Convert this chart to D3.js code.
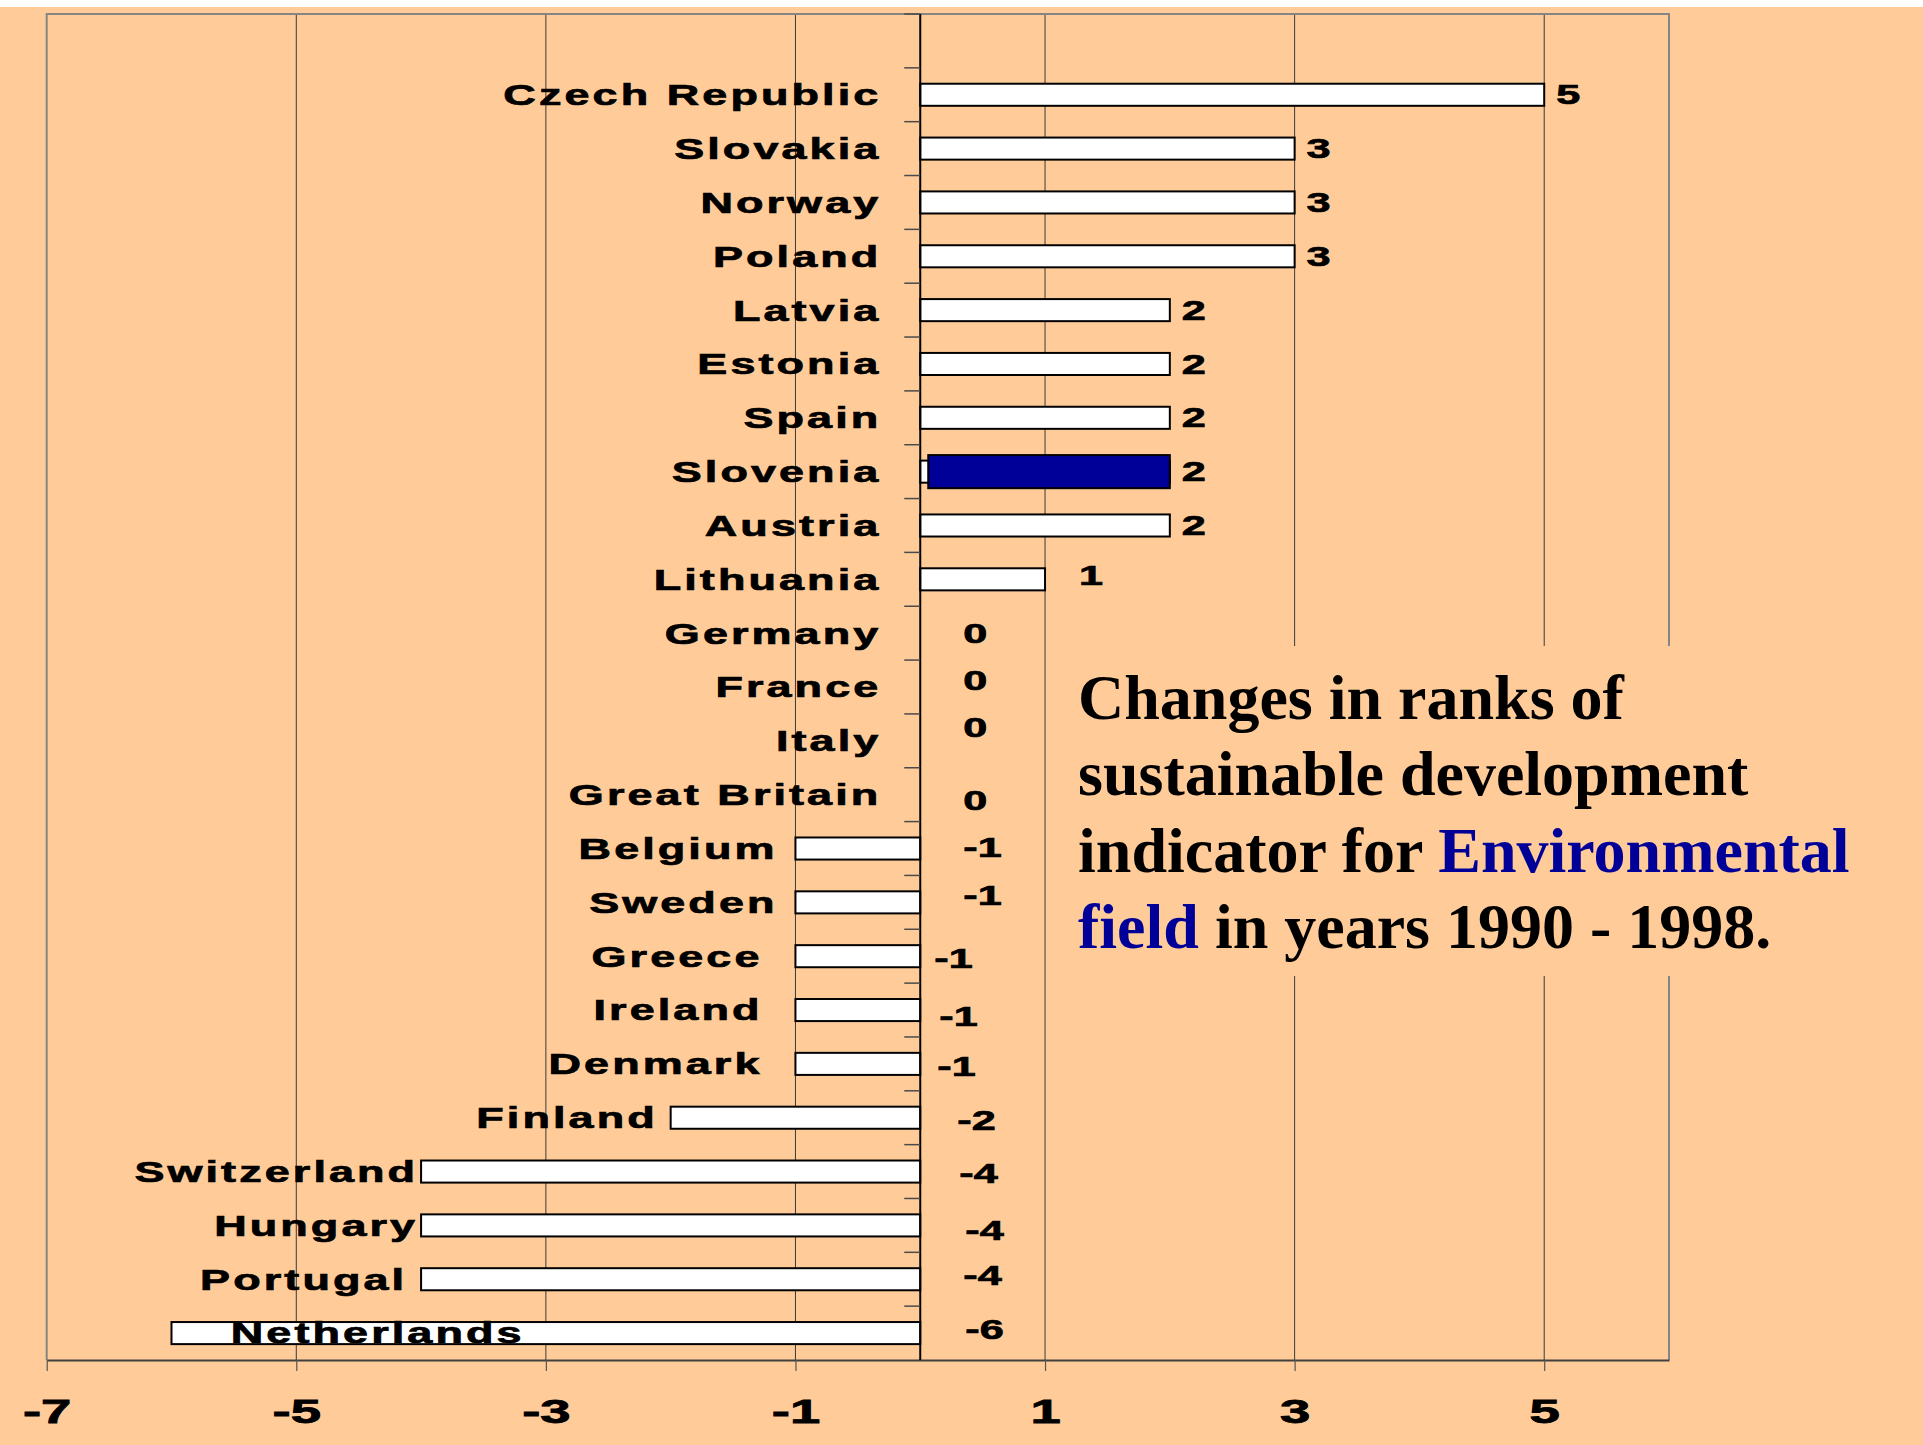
<!DOCTYPE html>
<html>
<head>
<meta charset="utf-8">
<script src="https://cdn.jsdelivr.net/npm/d3@7/dist/d3.min.js"></script>
<style>
  html, body { margin: 0; padding: 0; background: #FFCC99; }
  svg { display: block; }
</style>
</head>
<body>
<svg id="chart" width="1923" height="1445"></svg>
<script>
// Change in rank per country, 1990 - 1998 (environmental field)
const categories = ["Czech Republic", "Slovakia", "Norway", "Poland", "Latvia", "Estonia",
  "Spain", "Slovenia", "Austria", "Lithuania", "Germany", "France", "Italy", "Great Britain",
  "Belgium", "Sweden", "Greece", "Ireland", "Denmark", "Finland", "Switzerland", "Hungary",
  "Portugal", "Netherlands"];
const values = [5, 3, 3, 3, 2, 2, 2, 2, 2, 1, 0, 0, 0, 0, -1, -1, -1, -1, -1, -2, -4, -4, -4, -6];
const highlighted = ["Slovenia"];
const xTickValues = [-7, -5, -3, -1, 1, 3, 5];
const xDomain = [-7, 6];

// Title, split into lines; "hl" parts are printed in the accent colour
const titleLines = [
  [{ t: "Changes in ranks of" }],
  [{ t: "sustainable development" }],
  [{ t: "indicator for " }, { t: "Environmental", hl: true }],
  [{ t: "field", hl: true }, { t: " in years 1990 - 1998." }]
];

// Hand-placed label offsets (px) per row: country name dx, value label [dx, dy]
const nameDx = [0, 0, 0, 0, 0, 0, 0, 0, 0, 0, 0, 0, 0, 0, -1, -1, -16, -16, -16, 4, 14, 14, 3, 370];
const valueNudge = [[0, 0], [0, 0], [0, 0], [0, 0], [0, 0], [0, 0], [0, 0], [0, 0], [0, 0], [22, -4],
  [0, 0], [0, -7], [0, -14], [0, 6], [0, -1], [0, -7], [-29, 2], [-24, 6], [-26, 2], [-6, 3],
  [-4, 2], [2, 5], [0, -4], [2, -4]];

const rows = categories.map((c, i) => ({ name: c, value: values[i], i }));

const W = 1923, H = 1445;
const peach = "#FFCC99", accent = "#000099";
const plot = { left: 46.7, right: 1669, top: 14, bottom: 1360 };
const sans = "'Liberation Sans', Arial, sans-serif";

const svg = d3.select("#chart");
svg.append("rect").attr("width", W).attr("height", H).attr("fill", peach);
svg.append("rect").attr("width", W).attr("height", 7).attr("fill", "#ffffff");

const x = d3.scaleLinear().domain(xDomain).range([plot.left, plot.right]);
// one empty slot is kept above the first country
const step = (plot.bottom - plot.top) / (categories.length + 1);
const y = d3.scaleBand().domain(categories)
  .range([plot.top + step, plot.bottom]).padding(0);
const barH = step * 0.41;
const bandMid = c => y(c) + y.bandwidth() / 2;

// vertical gridlines
svg.append("g").selectAll("line")
  .data(xTickValues.filter(v => v > xDomain[0]))
  .join("line")
  .attr("x1", d => x(d)).attr("x2", d => x(d))
  .attr("y1", plot.top).attr("y2", plot.bottom)
  .attr("stroke", "#3a3a3a").attr("stroke-width", 1);

// plot frame (left, top, right)
svg.append("path")
  .attr("d", `M${plot.left},${plot.bottom}V${plot.top}H${plot.right}V${plot.bottom}`)
  .attr("fill", "none").attr("stroke", "#858585").attr("stroke-width", 2);

// bottom axis
const xAxis = d3.axisBottom(x).tickValues(xTickValues).tickSize(11).tickSizeOuter(0)
  .tickFormat(d => String(d));
const gx = svg.append("g").attr("transform", `translate(0,${plot.bottom})`).call(xAxis);
gx.select(".domain").attr("stroke", "#404040").attr("stroke-width", 2);
gx.selectAll(".tick line").attr("stroke", "#555").attr("stroke-width", 1.2);
gx.selectAll(".tick text")
  .attr("fill", "#000").attr("font-family", sans)
  .attr("font-weight", "bold").attr("font-size", 33)
  .attr("stroke", "#000").attr("stroke-width", 0.8)
  .attr("y", 0).attr("dy", 0)
  .attr("transform", "translate(0,63) scale(1.65,1)");

// bars
svg.append("g").selectAll("rect")
  .data(rows)
  .join("rect")
  .attr("x", d => x(Math.min(0, d.value)))
  .attr("width", d => Math.abs(x(d.value) - x(0)))
  .attr("y", d => bandMid(d.name) - barH / 2)
  .attr("height", barH)
  .attr("fill", "#ffffff")
  .attr("stroke", "#000").attr("stroke-width", 2)
  .style("display", d => d.value === 0 ? "none" : null);

// highlighted country drawn as a taller accent bar on top
const hiH = barH * 1.5;
svg.append("g").selectAll("rect")
  .data(rows.filter(d => highlighted.includes(d.name)))
  .join("rect")
  .attr("x", d => x(0) + 8)
  .attr("width", d => x(d.value) - x(0) - 8)
  .attr("y", d => bandMid(d.name) - hiH / 2)
  .attr("height", hiH)
  .attr("fill", accent)
  .attr("stroke", "#000").attr("stroke-width", 2);

// category axis at zero with tick marks on band boundaries
const gy = svg.append("g");
gy.append("line")
  .attr("x1", x(0)).attr("x2", x(0)).attr("y1", plot.top).attr("y2", plot.bottom)
  .attr("stroke", "#000").attr("stroke-width", 2);
gy.selectAll("line.tick")
  .data([plot.top].concat(categories.map(c => y(c))))
  .join("line").attr("class", "tick")
  .attr("x1", x(0) - 16).attr("x2", x(0))
  .attr("y1", d => d).attr("y2", d => d)
  .attr("stroke", "#4a4a4a").attr("stroke-width", 1.5);

// title panel
svg.append("rect")
  .attr("x", 1062).attr("y", 646).attr("width", 800).attr("height", 330)
  .attr("fill", peach);
const title = svg.append("text")
  .attr("font-family", "'Liberation Serif', 'Times New Roman', serif")
  .attr("font-weight", "bold").attr("font-size", 64).attr("fill", "#000");
titleLines.forEach((parts, li) => {
  parts.forEach((p, pi) => {
    const ts = title.append("tspan").text(p.t).attr("fill", p.hl ? accent : "#000")
      .style("white-space", "pre");
    if (pi === 0) ts.attr("x", 1078).attr("y", 719 + li * 76.4);
  });
});

// country names
const nameSize = 29, nameSx = 1.55, nameLs = 2;
svg.append("g").selectAll("text")
  .data(rows)
  .join("text")
  .text(d => d.name)
  .attr("font-family", sans)
  .attr("font-weight", "bold").attr("font-size", nameSize)
  .attr("letter-spacing", nameLs)
  .attr("stroke", "#000").attr("stroke-width", 0.7)
  .attr("text-anchor", "end").attr("fill", "#000")
  .attr("transform", d => {
    const base = d.value >= 0 ? x(0) - 42 : x(d.value) - 20;
    const ex = base + nameDx[d.i] + nameLs * nameSx;
    const ey = bandMid(d.name) + nameSize * 0.716 / 2;
    return `translate(${ex},${ey}) scale(${nameSx},1)`;
  });

// value labels
const valSize = 27, valSx = 1.6;
svg.append("g").selectAll("text")
  .data(rows)
  .join("text")
  .text(d => String(d.value))
  .attr("font-family", sans)
  .attr("font-weight", "bold").attr("font-size", valSize)
  .attr("stroke", "#000").attr("stroke-width", 0.7)
  .attr("fill", "#000")
  .attr("transform", d => {
    const base = d.value > 0 ? x(d.value) + 12 : x(0) + 43;
    const ex = base + valueNudge[d.i][0];
    const ey = bandMid(d.name) + valueNudge[d.i][1] + valSize * 0.716 / 2;
    return `translate(${ex},${ey}) scale(${valSx},1)`;
  });
</script>
</body>
</html>
